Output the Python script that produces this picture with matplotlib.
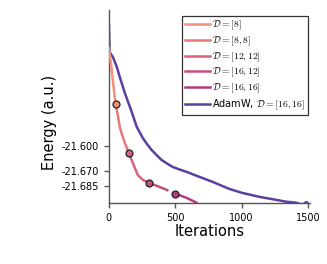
import numpy as np
import matplotlib
matplotlib.use("Agg")
import matplotlib.pyplot as plt

plt.rcParams['mathtext.fontset'] = 'cm'

# reference energy used for the log-like y axis
E0 = -21.6987

# growing network runs (one curve, coloured per architecture stage)
grow_iters = [0, 15, 50, 67, 82, 100, 120, 150, 180, 200, 217, 255, 300, 340, 382, 440, 502, 585, 660]
grow_energy = [-9.83, -16.01, -20.937, -21.254, -21.452, -21.535, -21.586, -21.6297, -21.6564,
               -21.668, -21.6752, -21.6803, -21.6828, -21.6843, -21.6857, -21.6876, -21.6894,
               -21.6911, -21.6927]
stage_bounds = [0, 50, 150, 300, 500, 660]
stage_labels = [r'$\mathcal{D}=[8]$', r'$\mathcal{D}=[8,8]$', r'$\mathcal{D}=[12,12]$',
                r'$\mathcal{D}=[16,12]$', r'$\mathcal{D}=[16,16]$']
stage_colors = ['#f3907b', '#e7797a', '#d7637c', '#c54e7f', '#b13b80']

# AdamW baseline
adam_iters = [0, 5, 30, 60, 82, 120, 172, 210, 255, 290, 322, 360, 397, 440, 480, 530, 585, 682,
              780, 907, 1004, 1132, 1259, 1334, 1409, 1440, 1470, 1484, 1495]
adam_energy = [18.7, -11.95, -14.07, -17.02, -18.84, -20.39, -21.184, -21.452, -21.555,
               -21.595, -21.619, -21.637, -21.650, -21.658, -21.664, -21.668, -21.6715, -21.6774,
               -21.682, -21.6869, -21.689, -21.6907, -21.6918, -21.6924, -21.6927, -21.6931,
               -21.6931, -21.6926, -21.6926]
adam_label = r'AdamW, $\mathcal{D}=[16,16]$'
adam_color = '#5b3f9f'

yticks = [-21.600, -21.670, -21.685]
ytick_labels = ['-21.600', '-21.670', '-21.685']
xticks = [0, 500, 1000, 1500]


def fwd(e):
    return np.log(np.clip(np.asarray(e) - E0, 1e-12, None))


def inv(v):
    return np.exp(v) + E0


fig = plt.figure(figsize=(3.27, 2.64), dpi=100)
ax = fig.add_axes([0.333, 0.231, 0.615, 0.731])
ax.set_yscale('function', functions=(fwd, inv))

gi = np.array(grow_iters)
ge = np.array(grow_energy)

ax.plot(adam_iters, adam_energy, color=adam_color, lw=1.8, zorder=2,
        solid_joinstyle='round', solid_capstyle='round')

handles = []
for k in range(len(stage_labels)):
    a, b = stage_bounds[k], stage_bounds[k + 1]
    m = (gi >= a) & (gi <= b)
    xs = list(gi[m])
    ys = list(ge[m])
    h, = ax.plot(xs, ys, color=stage_colors[k], lw=1.8, zorder=3, label=stage_labels[k],
                 solid_joinstyle='round')
    handles.append(h)

for k in range(1, len(stage_labels)):
    b = stage_bounds[k]
    ax.plot([b], [np.interp(b, gi, ge)], 'o', ms=5, mfc=stage_colors[k - 1] if k == 1 else stage_colors[k],
            mec='#222222', mew=0.9, zorder=4)

h_adam, = ax.plot([], [], color=adam_color, lw=1.8, label=adam_label)
handles.append(h_adam)

ax.set_xlim(0, 1515)
ax.set_ylim(-21.6928, 54.7)
ax.set_xticks(xticks)
ax.set_xticklabels([str(t) for t in xticks])
ax.set_yticks(yticks)
ax.set_yticklabels(ytick_labels)
ax.yaxis.set_minor_locator(matplotlib.ticker.NullLocator())

for s in ['top', 'right']:
    ax.spines[s].set_visible(False)
for s in ['left', 'bottom']:
    ax.spines[s].set_color('#555555')
    ax.spines[s].set_linewidth(1.0)
ax.tick_params(labelsize=7, colors='#555555', labelcolor='black', length=3.5, width=1.0)

ax.set_xlabel('Iterations', fontsize=10.5, labelpad=1)
ax.set_ylabel('Energy (a.u.)', fontsize=10.5)
ax.yaxis.set_label_coords(-0.26, 0.42)

leg = ax.legend(handles=handles, loc='upper right', bbox_to_anchor=(0.99, 0.97),
                borderaxespad=0, fontsize=7, handlelength=2.6, handletextpad=0.2,
                labelspacing=0.25, borderpad=0.3, fancybox=False, framealpha=1)
leg.get_frame().set_edgecolor('#333333')
leg.get_frame().set_linewidth(0.9)

fig.savefig('out.png', dpi=100)
